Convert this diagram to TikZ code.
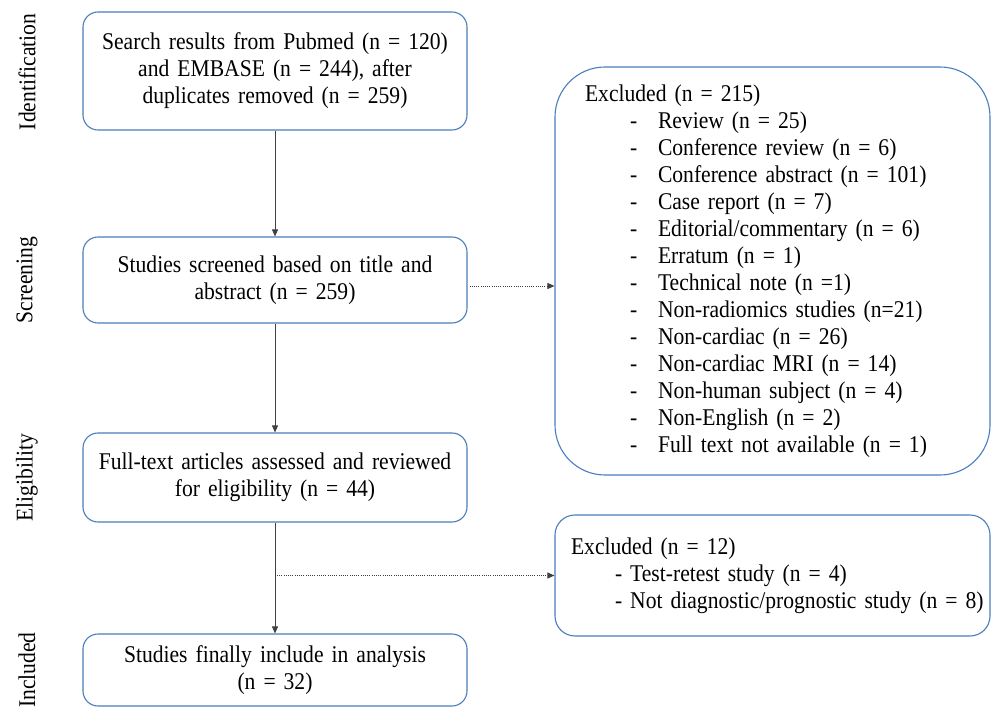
\documentclass[tikz,border=0pt]{standalone}
\usepackage{fontspec}
\setmainfont[FakeStretch=0.9]{Liberation Serif}
\usepackage{tikz}
\usetikzlibrary{arrows.meta,calc,positioning}
\definecolor{BoxBlue}{HTML}{4A7EBB}
\definecolor{ArrowGray}{HTML}{404040}
\newcommand{\exitem}[1]{\hspace*{45pt}\makebox[28pt][l]{-}#1}
\newcommand{\flowfont}{\fontsize{24}{27}\selectfont}

\begin{document}
\begin{tikzpicture}[x=1pt,y=-1pt,
    box/.style={draw=BoxBlue,line width=1.1pt,rounded corners=15pt,minimum width=384pt,
                text width=370pt,align=center,inner sep=4pt,font=\flowfont},
    sidebox/.style={draw=BoxBlue,line width=1.1pt,minimum width=435pt,align=left,
                font=\flowfont},
    stage/.style={rotate=90,font=\flowfont},
    flow/.style={ArrowGray,line width=0.8pt,-{Triangle[length=7pt,width=6pt]}},
    skip/.style={ArrowGray,line width=0.8pt,dash pattern=on 1pt off 1.2pt,-{Triangle[length=7pt,width=6pt]}}]
    \useasboundingbox (0,0) rectangle (993,708);
    % stages
    \node[stage] (lid) at (27,72) {Identification};
    \node[stage] (lscr) at (27,280) {Screening};
    \node[stage] (lelig) at (27,478) {Eligibility};
    \node[stage] (lincl) at (27,670) {Included};
    % main column
    \node[box,minimum height=118pt] (ident) at (275,71) {Search results from Pubmed (n = 120)\\and EMBASE (n = 244), after\\duplicates removed (n = 259)};
    \node[box,minimum height=86pt] (screen) at (275,280) {Studies screened based on title and\\abstract (n = 259)};
    \node[box,minimum height=89pt] (elig) at (275,477.5) {Full-text articles assessed and reviewed\\for eligibility (n = 44)};
    \node[box,minimum height=72pt] (incl) at (275,670) {Studies finally include in analysis\\(n = 32)};
    % exclusions
    \node[sidebox,rounded corners=50pt,minimum height=408pt,inner xsep=30pt,text width=375pt] (excl1) at (772.5,271) {Excluded (n = 215)\\
      \exitem{Review (n = 25)}\\
      \exitem{Conference review (n = 6)}\\
      \exitem{Conference abstract (n = 101)}\\
      \exitem{Case report (n = 7)}\\
      \exitem{Editorial/commentary (n = 6)}\\
      \exitem{Erratum (n = 1)}\\
      \exitem{Technical note (n =1)}\\
      \exitem{Non-radiomics studies (n=21)}\\
      \exitem{Non-cardiac (n = 26)}\\
      \exitem{Non-cardiac MRI (n = 14)}\\
      \exitem{Non-human subject (n = 4)}\\
      \exitem{Non-English (n = 2)}\\
      \exitem{Full text not available (n = 1)}};
    \node[sidebox,rounded corners=20pt,minimum height=121pt,inner xsep=16pt,text width=403pt] (excl2) at (772.5,575.5) {Excluded (n = 12)\\
      \hspace*{44pt}- Test-retest study (n = 4)\\
      \mbox{\hspace*{44pt}- Not diagnostic/prognostic study (n = 8)}};
    % connectors
    \draw[flow] (ident) -- (screen);
    \draw[flow] (screen) -- (elig);
    \draw[flow] (elig) -- (incl);
    \coordinate (split) at ($(elig.south |- excl2.west)+(2,0)$);
    \draw[skip] ([xshift=2pt,yshift=-6pt]screen.east) -- ([yshift=-6pt]screen.east -| excl1.west);
    \draw[skip] (split) -- (excl2.west);
\end{tikzpicture}
\end{document}
